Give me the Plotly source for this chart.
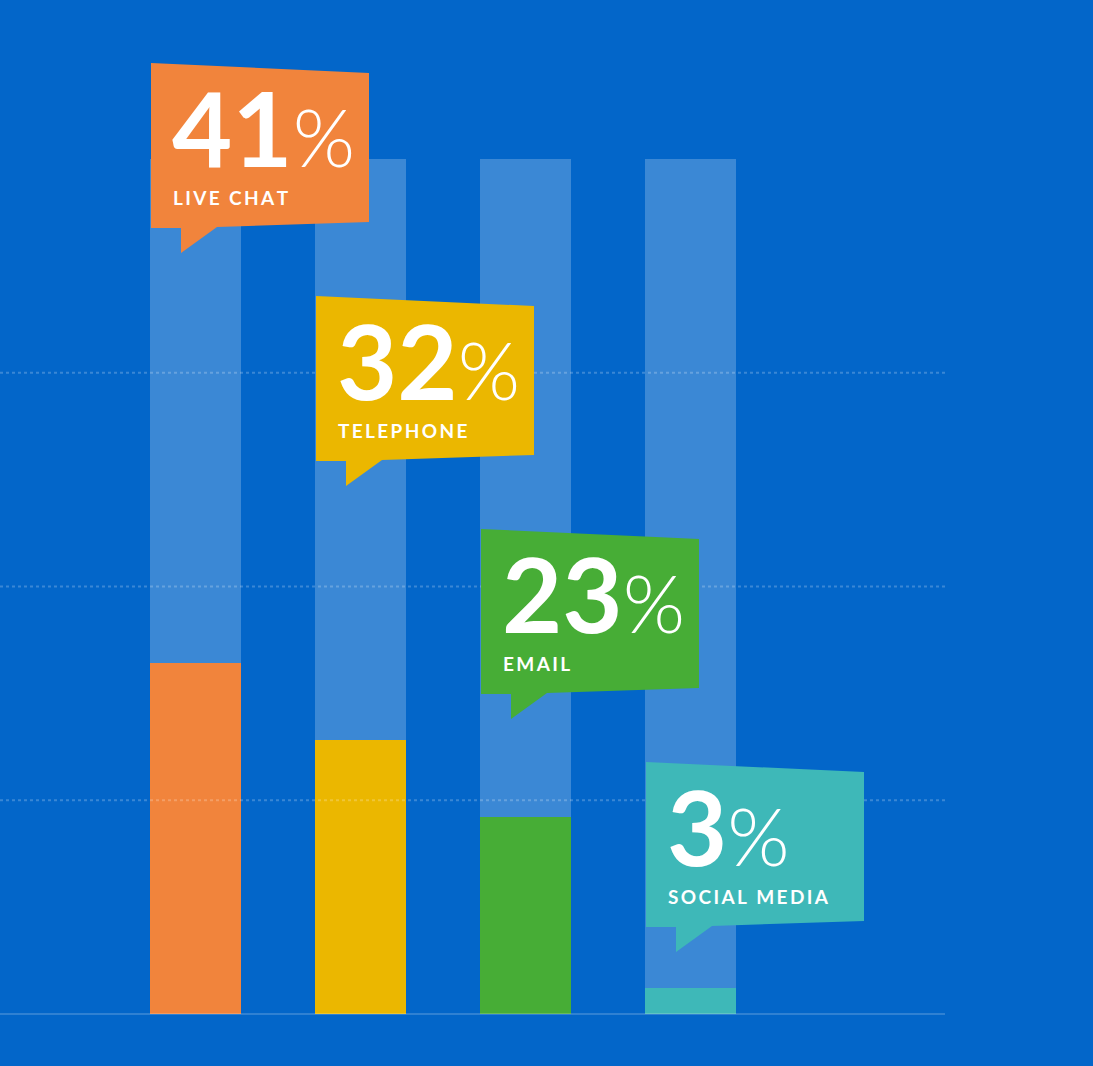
import plotly.graph_objects as go

# ---- data ----
categories = ["LIVE CHAT", "TELEPHONE", "EMAIL", "SOCIAL MEDIA"]
values = [41, 32, 23, 3]
full_values = [100, 100, 100, 100]
colors = ["#F1843C", "#EBB700", "#47AD36", "#3EB8B8"]
grid_levels = [25, 50, 75]

# ---- layout geometry (pixels -> data) ----
W, H = 1093, 1066
PX_PER_X = 165.0
X0_PX = 195.5          # centre of first bar
BASE_PX = 1014.0
TOP_PX = 159.0
PX_PER_Y = (BASE_PX - TOP_PX) / 100.0

def dx(px):
    return (px - X0_PX) / PX_PER_X

def dy(py):
    return (BASE_PX - py) / PX_PER_Y

xs = list(range(len(categories)))
bar_w = 91 / PX_PER_X

fig = go.Figure()
fig.add_trace(go.Bar(x=xs, y=full_values, width=bar_w, marker=dict(color="#3B88D5", line=dict(width=0)),
                     hoverinfo="skip", showlegend=False))
fig.add_trace(go.Bar(x=xs, y=values, width=bar_w, marker=dict(color=colors, line=dict(width=0)),
                     showlegend=False))

shapes = []
# dotted gridlines (drawn above bars)
for g in grid_levels:
    shapes.append(dict(type="line", xref="paper", yref="y", x0=0, x1=945 / W, y0=g, y1=g,
                       line=dict(color="rgba(255,255,255,0.22)", width=2, dash="dot"), layer="above"))
# baseline
shapes.append(dict(type="line", xref="paper", yref="y", x0=0, x1=945 / W, y0=0, y1=0,
                   line=dict(color="rgba(255,255,255,0.18)", width=2), layer="above"))

annotations = []
for i, (cat, v, c) in enumerate(zip(categories, values, colors)):
    ox = 165 * i
    oy = 233 * i
    pts = [(151, 63), (369, 73), (369, 222), (217, 227), (181, 253), (181, 228), (151, 228)]
    path = "M " + " L ".join(f"{dx(px + ox):.4f},{dy(py + oy):.4f}" for px, py in pts) + " Z"
    shapes.append(dict(type="path", xref="x", yref="y", path=path, fillcolor=c,
                       line=dict(width=0), layer="above"))
    annotations.append(dict(
        x=dx(170 + ox), y=dy(191 + oy), xref="x", yref="y", xanchor="left", yanchor="bottom",
        text=f"<b>{v}</b><span style='font-weight:300;font-size:80px'>%</span>",
        showarrow=False, font=dict(family="Lato", size=104, color="white")))
    spaced = "\u2009".join(list(cat))
    annotations.append(dict(
        x=dx(171 + ox), y=dy(197 + oy), xref="x", yref="y", xanchor="left", yanchor="middle",
        text=f"<b>{spaced}</b>", showarrow=False,
        font=dict(family="Lato", size=19, color="white")))

fig.update_layout(
    width=W, height=H, margin=dict(l=0, r=0, t=0, b=0),
    paper_bgcolor="#0366C9", plot_bgcolor="#0366C9",
    barmode="overlay", bargap=0,
    xaxis=dict(range=[dx(0), dx(W)], visible=False, fixedrange=True),
    yaxis=dict(range=[dy(H), dy(0)], visible=False, fixedrange=True),
    shapes=shapes, annotations=annotations,
)

fig.write_html("out.html", config={"displayModeBar": False},
               post_script="document.body.style.margin='0';document.body.style.background='#0366C9';")
